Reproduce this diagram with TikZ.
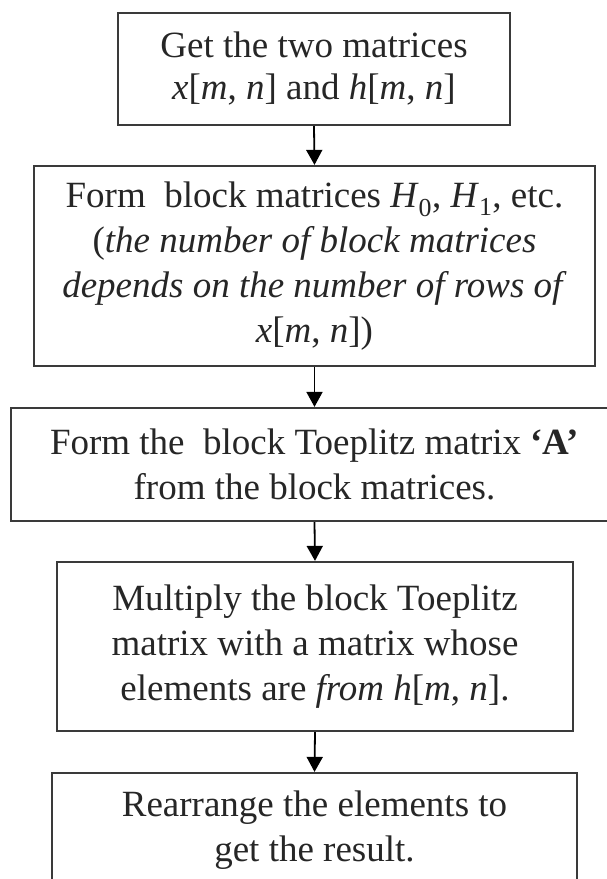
\documentclass[tikz,border=0pt]{standalone}
\usepackage{fontspec}
\setmainfont{Liberation Serif}
\usetikzlibrary{arrows.meta}
\definecolor{boxcol}{HTML}{3A3A3A}
\definecolor{txtcol}{HTML}{262626}
\begin{document}
\begin{tikzpicture}[x=1pt,y=1pt,
  box/.style={draw=boxcol, line width=2.2pt, rectangle, inner sep=0pt, align=center,
    text=txtcol, font=\fontsize{37}{45}\selectfont},
  conn/.style={-{Triangle[width=16pt,length=15pt]}, line width=1.8pt, black}]
\useasboundingbox (0,0) rectangle (607,879);
\clip (0,0) rectangle (607,879);
\node[box, minimum width=392pt, minimum height=112pt, font=\fontsize{37}{42}\selectfont] (b1) at (314,810)
  {Get the two matrices\\ \textit{x}[\textit{m}, \textit{n}] and \textit{h}[\textit{m}, \textit{n}]};
\node[box, minimum width=561pt, minimum height=200pt] (b2) at (314.5,613)
  {Form\ \ block matrices \textit{H}\textsubscript{0}, \textit{H}\textsubscript{1}, etc.\\
   (\textit{the number of block matrices}\\
   \textit{depends on the number of rows of}\\
   \textit{x}[\textit{m}, \textit{n}])};
\node[box, minimum width=607pt, minimum height=113pt] (b3) at (314.5,414.5)
  {Form the\ \ block Toeplitz matrix \textbf{‘A’}\\ from the block matrices.};
\node[box, minimum width=516pt, minimum height=169pt] (b4) at (315,232.5)
  {Multiply the block Toeplitz\\ matrix with a matrix whose\\
   elements are \textit{from h}[\textit{m}, \textit{n}].};
\node[box, minimum width=525pt, minimum height=115pt] (b5) at (314.5,48.5)
  {Rearrange the elements to\\ get the result.};
\draw[conn] (b1.south) -- (b2.north);
\draw[conn] (b2.south) -- (b3.north);
\draw[conn] (b3.south) -- (b4.north);
\draw[conn] (b4.south) -- (b5.north);
\end{tikzpicture}
\end{document}
